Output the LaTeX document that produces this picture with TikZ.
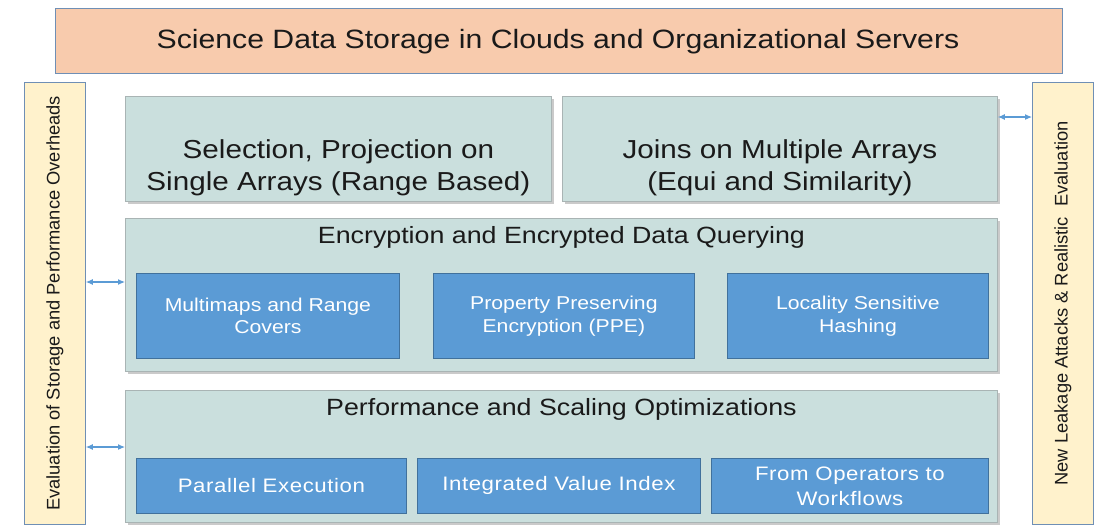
\documentclass[tikz,border=0pt]{standalone}
\usepackage{fontspec}
\setmainfont{Liberation Sans}[FakeStretch=1.14]
\newfontfamily\sidefont{Liberation Sans}
\newfontfamily\widefont{Liberation Sans}[FakeStretch=1.14, LetterSpace=3]
\usetikzlibrary{arrows.meta,shadows}
\definecolor{titlefill}{HTML}{F8CBAD}
\definecolor{edgeblue}{HTML}{6F8FB5}
\definecolor{barfill}{HTML}{FFF2CC}
\definecolor{panelfill}{HTML}{CADFDD}
\definecolor{paneledge}{HTML}{A9B4B4}
\definecolor{cellfill}{HTML}{5B9BD5}
\definecolor{celledge}{HTML}{41719C}
\definecolor{arrowblue}{HTML}{5B9BD5}
\definecolor{ink}{HTML}{1A1A1A}
\tikzset{
  box/.style={rectangle, anchor=north west, inner sep=0pt, align=center},
  titlebox/.style={box, fill=titlefill, draw=edgeblue, line width=0.8pt},
  sidebar/.style={box, fill=barfill, draw=edgeblue, line width=0.8pt},
  panel/.style={box, fill=panelfill, draw=paneledge, line width=0.8pt,
    drop shadow={opacity=0.35, shadow xshift=2.5pt, shadow yshift=-2.5pt, fill=black!60}},
  cell/.style={box, fill=cellfill, draw=celledge, line width=0.8pt, text=white,
    font=\fontsize{18.6}{22.6}\selectfont},
  widecell/.style={cell, font=\widefont\fontsize{19.5}{25}\selectfont},
  bigline/.style={anchor=base, inner sep=0pt, text=ink, font=\fontsize{26}{30}\selectfont},
  headline/.style={anchor=base, inner sep=0pt, text=ink, font=\fontsize{23.5}{28}\selectfont},
  sidetext/.style={rotate=90, inner sep=0pt, text=ink, font=\sidefont\fontsize{18.3}{22}\selectfont},
  biarrow/.style={{Latex[length=7pt,width=6pt]}-{Latex[length=7pt,width=6pt]}, draw=arrowblue, line width=1.1pt},
}
\begin{document}
\begin{tikzpicture}[x=1pt,y=-1pt]
\useasboundingbox (0,0) rectangle (1094,525);

% storage layer across the top
\node[titlebox, minimum width=1007pt, minimum height=65pt] (store) at (55,8) {};
\node[bigline, font=\fontsize{26.5}{30}\selectfont] (storetxt) at (558,48.3)
  {Science Data Storage in Clouds and Organizational Servers};

% evaluation bars on both sides
\node[sidebar, minimum width=61pt, minimum height=442pt] (leftbar) at (24,82) {};
\node[sidetext] (lefttxt) at (leftbar.center)
  {Evaluation of Storage and Performance Overheads};
\node[sidebar, minimum width=61pt, minimum height=442pt] (rightbar) at (1032,82) {};
\node[sidetext] (righttxt) at (rightbar.center)
  {New Leakage Attacks \& Realistic\ \ Evaluation};

% query operators
\node[panel, minimum width=426pt, minimum height=105pt] (sel) at (125,96) {};
\node[bigline] (sel1) at (sel.center |- 0,158) {Selection, Projection on};
\node[bigline] (sel2) at (sel.center |- 0,190) {Single Arrays (Range Based)};
\node[panel, minimum width=435pt, minimum height=105pt] (join) at (562,96) {};
\node[bigline] (join1) at (join.center |- 0,158) {Joins on Multiple Arrays};
\node[bigline] (join2) at (join.center |- 0,190) {(Equi and Similarity)};

% encryption layer
\node[panel, minimum width=872pt, minimum height=153pt] (enc) at (125,218) {};
\node[headline] (enctitle) at (enc.center |- 0,243.3)
  {Encryption and Encrypted Data Querying};
\node[cell, minimum width=263pt, minimum height=85pt] (mm) at (136,273)
  {Multimaps and Range\\Covers};
\node[cell, minimum width=261pt, minimum height=85pt] (ppe) at (433,273)
  {Property Preserving\\Encryption (PPE)};
\node[cell, minimum width=261pt, minimum height=85pt] (lsh) at (727,273)
  {Locality Sensitive\\Hashing};

% performance layer
\node[panel, minimum width=872pt, minimum height=132pt] (perf) at (125,390) {};
\node[headline] (perftitle) at (perf.center |- 0,415.7)
  {Performance and Scaling Optimizations};
\node[widecell, minimum width=270pt, minimum height=55pt] (par) at (136,458)
  {Parallel Execution};
\node[widecell, minimum width=283pt, minimum height=55pt] (ivi) at (417,458)
  {Integrated Value Index};
\node[widecell, minimum width=277pt, minimum height=55pt] (ops) at (711,458)
  {From Operators to\\Workflows};

% links between the layers and the evaluation bars
\draw[biarrow] (join.east |- 0,117) -- (rightbar.west |- 0,117);
\draw[biarrow] (leftbar.east |- 0,282) -- (enc.west |- 0,282);
\draw[biarrow] (leftbar.east |- 0,447) -- (perf.west |- 0,447);
\end{tikzpicture}
\end{document}
